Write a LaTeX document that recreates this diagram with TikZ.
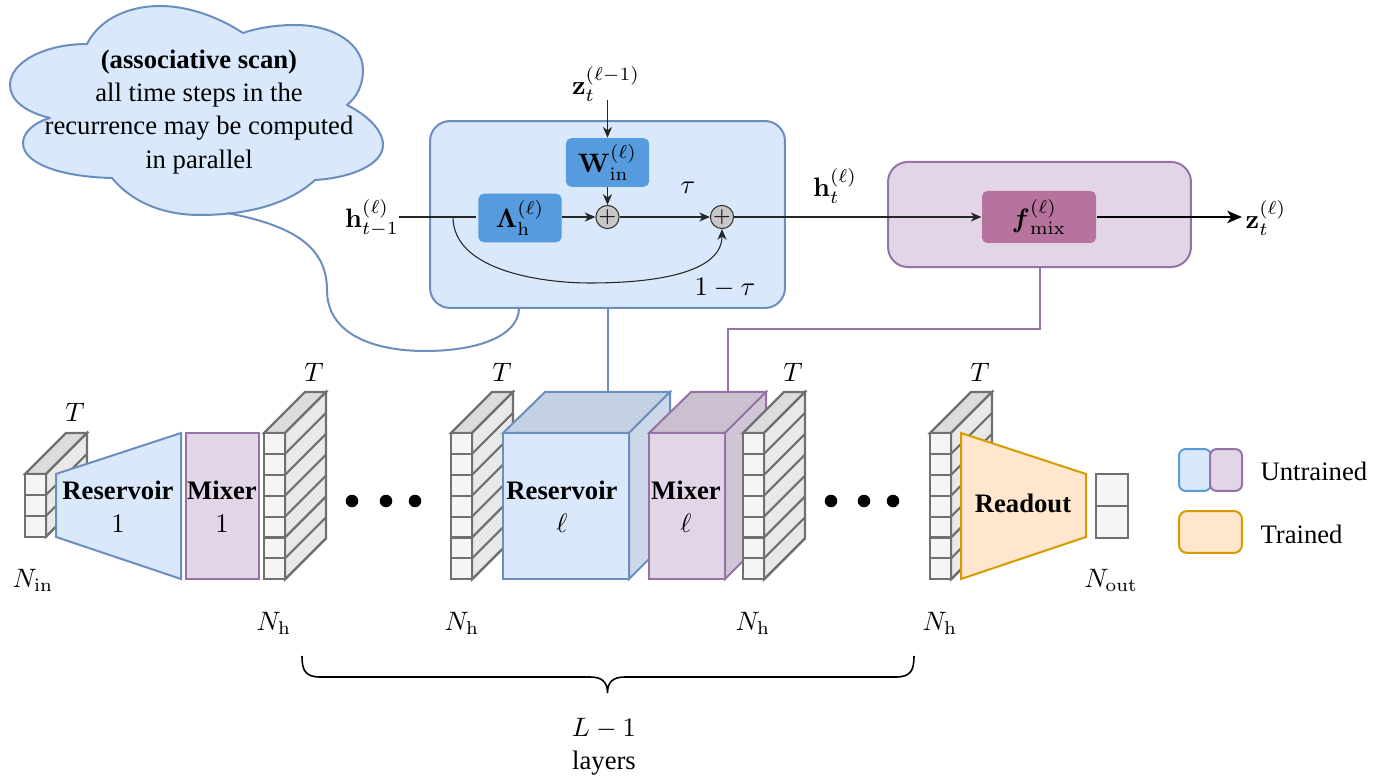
\documentclass[tikz,border=0pt]{standalone}
\usepackage[no-math]{fontspec}
\usepackage{amsmath}
\setmainfont{Liberation Serif}
\usetikzlibrary{arrows.meta}
\definecolor{resfill}{HTML}{DAE8FC}
\definecolor{resline}{HTML}{6C8EBF}
\definecolor{mixfill}{HTML}{E1D5E7}
\definecolor{mixline}{HTML}{9673A6}
\definecolor{outfill}{HTML}{FFE6CC}
\definecolor{outline}{HTML}{D79B00}
\definecolor{resdark}{HTML}{569BDD}
\definecolor{mixdark}{HTML}{B5739D}
\definecolor{legline}{HTML}{5B9BD5}
\definecolor{cellfill}{HTML}{F5F5F5}
\definecolor{cellline}{HTML}{707070}

\newcommand{\tensorstack}[3]{
    \begin{scope}[shift={(#1,#2)}]
    \draw[cell, fill=cellfill!90!black] (0,0) -- (41,-41) -- (62,-41) -- (21,0) -- cycle;
    \draw[cell, fill=cellfill!95!black] (21,0) -- (62,-41) -- (62,{#3*20.9-41}) -- (21,{#3*20.9}) -- cycle;
    \foreach \i in {1,...,#3} {
        \draw[cell] (21,{\i*20.9}) -- (62,{\i*20.9-41});
        \draw[cell, fill=cellfill] (0,{(\i-1)*20.9}) rectangle (21,{\i*20.9});
    }
    \end{scope}
}

\begin{document}
\begin{tikzpicture}
    [x=0.375pt, y=-0.375pt,
    every node/.style={font=\fontsize{10}{12.4}\selectfont, align=center},
    cell/.style={draw=cellline, line width=0.8pt},
    resbig/.style={draw=resline, fill=resfill, line width=0.75pt, rounded corners=7.5pt, inner sep=0pt},
    mixbig/.style={draw=mixline, fill=mixfill, line width=0.75pt, rounded corners=7.5pt, inner sep=0pt},
    resblock/.style={draw=resline, fill=resfill, line width=0.75pt, line join=miter},
    mixblock/.style={draw=mixline, fill=mixfill, line width=0.75pt, line join=miter},
    resinner/.style={fill=resdark, rounded corners=2pt, inner sep=0pt, minimum width=31.2pt, minimum height=18.2pt},
    sumnode/.style={circle, draw=black!80, fill=black!22, line width=0.4pt, inner sep=0pt, minimum size=7.8pt},
    bigdot/.style={circle, fill=black, inner sep=0pt, minimum size=4.7pt},
    legend/.style={inner sep=0pt, minimum height=15.7pt, rounded corners=2.5pt, line width=0.75pt},
    wire/.style={draw=black!85, line width=0.4pt, -{Stealth[length=4pt, width=3.4pt, inset=1.2pt]}},
    plain wire/.style={draw=black!85, line width=0.4pt}]
    \useasboundingbox (0,0) rectangle (1375,782);

    % cloud with its tail
    \draw[resblock, line join=round] (87,44) .. controls (100,18) and (130,6) .. (160,6)
        .. controls (190,6) and (220,18) .. (243,33)
        .. controls (260,27) and (280,25) .. (295,25)
        .. controls (335,25) and (363,45) .. (363,70)
        .. controls (363,85) and (357,97) .. (347,105)
        .. controls (367,115) and (383,130) .. (383,145)
        .. controls (383,165) and (350,178) .. (315,180)
        .. controls (290,203) and (250,215) .. (200,215)
        .. controls (160,215) and (130,200) .. (112,178)
        .. controls (65,177) and (23,165) .. (23,143)
        .. controls (23,132) and (35,122) .. (50,118)
        .. controls (25,112) and (10,100) .. (10,85)
        .. controls (10,62) and (45,44) .. (87,44) -- cycle;
    \node (note) at (199, 112) {\textbf{(associative scan)}\\all time steps in the\\recurrence may be computed\\in parallel};

    % recurrence box
    \node[resbig, minimum width=133.1pt, minimum height=70.1pt] (resbox) at (607.5, 214.5) {};
    \node[mixbig, minimum width=113.6pt, minimum height=39.4pt] (mixbox) at (1039.5, 214.5) {};
    \node[resinner] (win) at (607.5, 162.5) {$\mathbf{W}_{\mathrm{in}}^{(\ell)}$};
    \node[resinner] (lam) at (520, 218) {$\mathbf{\Lambda}_{\mathrm{h}}^{(\ell)}$};
    \node[sumnode, font=\footnotesize] (add1) at (607.5, 217) {$+$};
    \node[sumnode, font=\footnotesize] (add2) at (722, 217) {$+$};
    \node[fill=mixdark, rounded corners=2pt, inner sep=0pt, minimum width=42.75pt, minimum height=19.5pt] (fmix) at (1039, 217) {$\boldsymbol{f}_{\mathrm{mix}}^{(\ell)}$};
    \node (zprev) at (606, 84) {$\mathbf{z}_t^{(\ell-1)}$};
    \node (hprev) at (372, 218) {$\mathbf{h}_{t-1}^{(\ell)}$};
    \node (hcur) at (835, 186) {$\mathbf{h}_t^{(\ell)}$};
    \node (zcur) at (1266, 218) {$\mathbf{z}_t^{(\ell)}$};
    \node (tau) at (688, 188) {$\tau$};
    \node (onetau) at (725, 288) {$1-\tau$};
    \coordinate (zin) at (607.5, 100);
    \coordinate (hin) at (399, 217);
    \coordinate (hlam) at (476, 217);
    \coordinate (hfork) at (453, 217);
    \coordinate (zend) at (1242, 217);
    \draw[wire] (zin) -- (win);
    \draw[wire] (win) -- (add1);
    \draw[plain wire] (hin) -- (hlam);
    \draw[wire] (lam.east |- add1) -- (add1);
    \draw[wire] (add1) -- (add2);
    \draw[wire] (add2) -- (fmix.west |- add2);
    \draw[wire] (hfork) .. controls (453,270) and (540,283) .. (590,283)
        .. controls (665,283) and (722,270) .. (add2.south);
    \draw[line width=0.95pt, -{Stealth[length=5.5pt, width=4.6pt, inset=1.5pt]}] (fmix.east |- add2) -- (zend);

    % stacks and blocks
    \tensorstack{25}{474}{3}
    \tensorstack{264}{433}{7}
    \tensorstack{451}{433}{7}
    \draw[resblock, fill=resfill!90!black] (503,433) -- (545,392) -- (670,392) -- (629,433) -- cycle;
    \draw[resblock, fill=resfill!93!black] (629,433) -- (670,392) -- (670,538) -- (629,579) -- cycle;
    \node[resblock, inner sep=0pt, minimum width=47.2pt, minimum height=54.7pt] (rescube) at (566, 506) {};
    \draw[mixblock, fill=mixfill!90!black] (649,433) -- (691,392) -- (766,392) -- (725,433) -- cycle;
    \draw[mixblock, fill=mixfill!93!black] (725,433) -- (766,392) -- (766,538) -- (725,579) -- cycle;
    \node[mixblock, inner sep=0pt, minimum width=28.5pt, minimum height=54.7pt] (mixcube) at (687, 506) {};
    \tensorstack{743}{433}{7}
    \tensorstack{930}{433}{7}
    \draw[resblock] (56,474) -- (181,433) -- (181,579) -- (56,537) -- cycle;
    \node[mixblock, inner sep=0pt, minimum width=27.4pt, minimum height=54.7pt] (mix1) at (222.5, 506) {};
    \draw[outline, fill=outfill, line width=0.75pt] (961,433) -- (1086,474) -- (1086,537) -- (961,579) -- cycle;
    \draw[cell, fill=cellfill] (1096,474) rectangle (1128,506);
    \draw[cell, fill=cellfill] (1096,506) rectangle (1128,538);

    \node (res1txt) at (118, 507) {\textbf{Reservoir}\\$1$};
    \node (mix1txt) at (222, 507) {\textbf{Mixer}\\$1$};
    \node (reslt) at (562, 507) {\textbf{Reservoir}\\$\ell$};
    \node (mixlt) at (686, 507) {\textbf{Mixer}\\$\ell$};
    \node (readout) at (1023, 503) {\textbf{Readout}};

    % links from the boxes to the blocks
    \coordinate (restop) at (607.5, 392);
    \coordinate (mixtop) at (728, 392);
    \coordinate (mixbend) at (1039.5, 329);
    \coordinate (notetail) at (227, 213);
    \coordinate (restail) at (519, 308);
    \draw[resline, line width=0.75pt] (resbox.south) -- (restop);
    \draw[mixline, line width=0.75pt] (mixbox.south) -- (mixbend) -| (mixtop);
    \draw[resline, line width=0.75pt] (notetail) .. controls (290,225) and (327,245) .. (327,290)
        .. controls (327,335) and (375,351) .. (425,351)
        .. controls (480,351) and (519,335) .. (restail);

    % dots
    \node[bigdot] (dot1) at (352, 501) {};
    \node[bigdot] (dot2) at (386, 501) {};
    \node[bigdot] (dot3) at (415, 501) {};
    \node[bigdot] (dot4) at (831, 501) {};
    \node[bigdot] (dot5) at (864, 501) {};
    \node[bigdot] (dot6) at (893, 501) {};

    % sizes
    \node (t1) at (75, 412) {$T$};
    \node (t2) at (314, 372) {$T$};
    \node (t3) at (502, 372) {$T$};
    \node (t4) at (793, 372) {$T$};
    \node (t5) at (980, 372) {$T$};
    \node (nin) at (33, 580) {$N_{\mathrm{in}}$};
    \node (nh1) at (274, 623) {$N_{\mathrm{h}}$};
    \node (nh2) at (462, 623) {$N_{\mathrm{h}}$};
    \node (nh3) at (753, 623) {$N_{\mathrm{h}}$};
    \node (nh4) at (940, 623) {$N_{\mathrm{h}}$};
    \node (nout) at (1111, 580) {$N_{\mathrm{out}}$};

    % brace
    \draw[line width=0.6pt] (302,656) .. controls (302,670) and (305,677) .. (320,677) -- (590,677)
        .. controls (602,677) and (607.5,682) .. (607.5,693)
        .. controls (607.5,682) and (613,677) .. (625,677) -- (896,677)
        .. controls (911,677) and (914,670) .. (914,656);
    \node (layers) at (604, 747) {$L-1$\\layers};

    % legend
    \node[legend, draw=legline, fill=resfill, minimum width=12pt] (legres) at (1195, 470) {};
    \node[legend, draw=mixline, fill=mixfill, minimum width=12pt] (legmix) at (1226, 470) {};
    \node[legend, draw=outline, fill=outfill, minimum width=23.6pt, rounded corners=3pt] (legout) at (1210.5, 532) {};
    \node[anchor=west, inner sep=0pt] (legu) at (1260, 471) {Untrained};
    \node[anchor=west, inner sep=0pt] (legt) at (1260, 534) {Trained};
\end{tikzpicture}
\end{document}
